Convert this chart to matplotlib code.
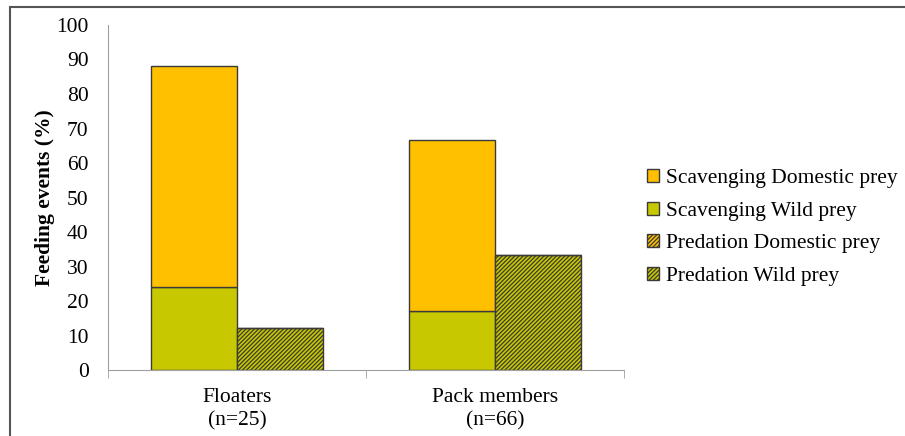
import matplotlib.pyplot as plt
import numpy as np

# data
groups = ["Floaters\n(n=25)", "Pack members\n(n=66)"]
scav_wild = [24.2, 17.1]
scav_domestic = [64.0, 49.6]
pred_wild = [12.2, 33.3]
pred_domestic = [0.0, 0.0]

orange = "#FFC000"
green = "#C8C800"
edge = "#3A3A3A"

plt.rcParams["font.family"] = ["Liberation Serif", "DejaVu Serif"]
plt.rcParams["hatch.linewidth"] = 0.9
plt.rcParams["hatch.color"] = "#222222"

fig = plt.figure(figsize=(9.05, 4.36), dpi=100)
ax = fig.add_axes([108 / 905, 1 - 370 / 436, 516 / 905, 345 / 436])

x = np.arange(len(groups))
w = 1 / 3

ax.bar(x - w / 2, scav_wild, w, color=green, edgecolor=edge, linewidth=1,
       label="Scavenging Wild prey")
ax.bar(x - w / 2, scav_domestic, w, bottom=scav_wild, color=orange,
       edgecolor=edge, linewidth=1, label="Scavenging Domestic prey")
ax.bar(x + w / 2, pred_wild, w, color=green, edgecolor=edge, linewidth=1,
       hatch="////////", label="Predation Wild prey")
ax.bar(x + w / 2, pred_domestic, w, bottom=pred_wild, color=orange,
       edgecolor=edge, linewidth=1, hatch="////////", label="Predation Domestic prey")

ax.set_xlim(-0.5, 1.5)
ax.set_ylim(0, 100)
ax.set_yticks(range(0, 101, 10))
ax.tick_params(axis="y", length=0, labelsize=15.5, pad=14)
ax.set_xticks(x)
ax.set_xticklabels(groups, fontsize=15.5, linespacing=1.3)
ax.tick_params(axis="x", length=0, pad=13)
ax.set_xticks([-0.5, 0.5, 1.5], minor=True)
ax.tick_params(axis="x", which="minor", length=6, direction="out", color="#A0A0A0")

for s in ["top", "right"]:
    ax.spines[s].set_visible(False)
for s in ["left", "bottom"]:
    ax.spines[s].set_color("#A0A0A0")

ax.set_ylabel("Feeding events (%)", fontsize=15.5, fontweight="bold", labelpad=1)

handles, labels = ax.get_legend_handles_labels()
order = [1, 0, 3, 2]
leg = fig.legend([handles[i] for i in order], [labels[i] for i in order],
                 loc="upper left", bbox_to_anchor=(630 / 905, 1 - 152 / 436),
                 frameon=False, fontsize=15.5, handlelength=0.55, handleheight=0.55,
                 handletextpad=0.3, labelspacing=0.62, borderpad=0.3)

# outer chart border
fig.patches.append(plt.Rectangle((10 / 905, -0.1), 1.2, 1 - 7 / 436 + 0.1,
                                 transform=fig.transFigure, fill=False,
                                 edgecolor="#555555", linewidth=1.5))

fig.savefig("out.png", dpi=100)
